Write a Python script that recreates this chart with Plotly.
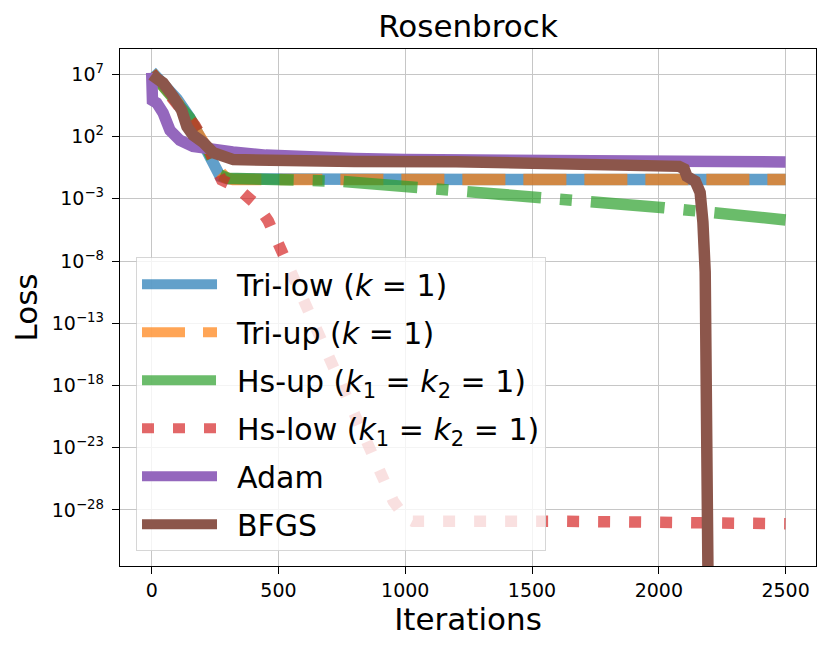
from plotly import graph_objects as go

FONT = "DejaVu Sans"

# Iterations / loss
tri_low_x = [0, 50, 100, 150, 190, 215, 243, 270, 300, 600, 1000, 1500, 2000, 2500]
tri_low_y = [1.6e7, 1.6e6, 1e5, 3.2e3, 1e2, 6.3, 0.35, 0.063, 0.040, 0.035, 0.035, 0.035, 0.035, 0.035]

tri_up_x = [0, 50, 100, 150, 204, 230, 260, 290, 320, 600, 1000, 1500, 2000, 2500]
tri_up_y = [1.3e7, 1e6, 6.3e4, 2.0e3, 50, 5.0, 0.25, 0.05, 0.035, 0.035, 0.035, 0.035, 0.035, 0.035]

hs_up_x = [0, 50, 100, 150, 200, 240, 270, 300, 550, 750, 1050, 1250, 1530, 2020, 2500]
hs_up_y = [1.3e7, 1e6, 5.0e4, 3.2e3, 63, 1.0, 0.079, 0.045, 0.035, 0.025, 7.9e-3, 3.8e-3, 1.35e-3, 1.9e-4, 2.0e-5]

hs_low_x = [0, 50, 100, 170, 200, 230, 260, 276, 330, 381, 420, 460, 506, 557, 605, 655,
            704, 755, 803, 854, 901, 953, 1000, 1030, 1600, 1760, 1800, 2500]
hs_low_y = [1.3e7, 1e6, 4.0e4, 7.9e2, 1e2, 6.3, 0.16, 0.032, 0.01, 1.6e-3, 2.5e-4, 1.6e-5,
            1.3e-7, 7.9e-10, 3.2e-12, 1.6e-14, 7.9e-17, 6.3e-19, 3.2e-21, 1.6e-23, 1e-25,
            5.0e-28, 2.5e-29, 1.26e-29, 1.26e-29, 1.26e-29, 7.9e-30, 7.9e-30]

adam_x = [0, 3, 20, 45, 72, 111, 163, 230, 320, 450, 600, 800, 1000, 1500, 2000, 2500]
adam_y = [1.3e7, 7.9e4, 5.0e4, 7.9e3, 3.2e2, 50, 16, 8.9, 5.8, 3.2, 2.1, 1.7, 1.4, 1.12, 1.0, 0.91]

bfgs_x = [0, 45, 85, 118, 139, 163, 204, 243, 322, 450, 600, 800, 1200, 1600, 1966, 2080,
          2100, 2111, 2144, 2163, 2174, 2183, 2197]
bfgs_y = [8.9e6, 2.0e6, 1.6e5, 1.3e4, 6.3e2, 1.3e2, 32, 5.0, 1.4, 1.12, 1.0, 1.0, 0.95, 0.79,
          0.56, 0.40, 0.25, 0.063, 0.025, 3.2e-3, 1.3e-5, 1.3e-9, 1e-40]

x_ticks = [0, 500, 1000, 1500, 2000, 2500]
y_tick_exps = [7, 2, -3, -8, -13, -18, -23, -28]
y_tick_text = ["10<sup>%s</sup>" % str(e).replace("-", "\u2212") for e in y_tick_exps]

# en space in front of names pushes the text away from the legend line
PAD = "\u2002"

series = [
    ("Tri-low (<i>k</i> = 1)", tri_low_x, tri_low_y, "#1f77b4", "solid", 0.7),
    ("Tri-up (<i>k</i> = 1)", tri_up_x, tri_up_y, "#ff7f0e", "43px,18px", 0.7),
    ("Hs-up (<i>k</i><sub>1</sub> = <i>k</i><sub>2</sub> = 1)", hs_up_x, hs_up_y, "#2ca02c",
     "74px,19px,12px,19px", 0.7),
    ("Hs-low (<i>k</i><sub>1</sub> = <i>k</i><sub>2</sub> = 1)", hs_low_x, hs_low_y, "#d62728",
     "12px,19px", 0.7),
    ("Adam", adam_x, adam_y, "#9467bd", "solid", 1.0),
    ("BFGS", bfgs_x, bfgs_y, "#8c564b", "solid", 1.0),
]

# Create figure
fig = go.Figure()

for idx, (name, xs, ys, colour, dash, alpha) in enumerate(series):
    fig.add_trace(
        go.Scatter(
            x=xs,
            y=ys,
            name=PAD + name,
            legendgroup=f"g{idx}",
            mode="lines",
            opacity=alpha,
            line={"color": colour, "width": 11.5, "dash": dash},
        )
    )

axis_common = {
    "showline": True,
    "linecolor": "black",
    "linewidth": 1.4,
    "mirror": True,
    "ticks": "outside",
    "ticklen": 7,
    "tickwidth": 1.4,
    "tickcolor": "black",
    "showgrid": True,
    "gridcolor": "#c6c6c6",
    "gridwidth": 1.3,
    "zeroline": False,
    "tickfont": {"size": 19, "color": "black"},
}

# Update figure layout (page body adds 8px, so the figure is 8px smaller)
fig.update_layout(
    autosize=False,
    width=822,
    height=645,
    margin={"l": 112, "r": 14, "t": 41, "b": 87},
    paper_bgcolor="white",
    plot_bgcolor="white",
    font={"family": FONT, "color": "black"},
    title={
        "text": "Rosenbrock",
        "x": 0.5,
        "xref": "paper",
        "y": 0.972,
        "yref": "container",
        "xanchor": "center",
        "yanchor": "middle",
        "font": {"size": 31},
    },
    xaxis={
        **axis_common,
        "range": [-125, 2620],
        "tickvals": x_ticks,
        "title": {"text": "Iterations", "font": {"size": 31}, "standoff": 8},
    },
    yaxis={
        **axis_common,
        "type": "log",
        "range": [-32.5, 9.03],
        "tickvals": [10.0 ** e for e in y_tick_exps],
        "ticktext": y_tick_text,
        "ticklabelstandoff": 4,
        "title": {"text": "Loss", "font": {"size": 31}, "standoff": 4},
    },
    legend={
        "x": 0.023,
        "y": 0.597,
        "xanchor": "left",
        "yanchor": "top",
        "bgcolor": "rgba(255,255,255,0.8)",
        "bordercolor": "rgba(204,204,204,0.8)",
        "borderwidth": 1,
        "font": {"size": 30},
        "itemwidth": 75,
        "traceorder": "grouped",
        "tracegroupgap": 6,
    },
    showlegend=True,
)

fig.write_html("out.html")
